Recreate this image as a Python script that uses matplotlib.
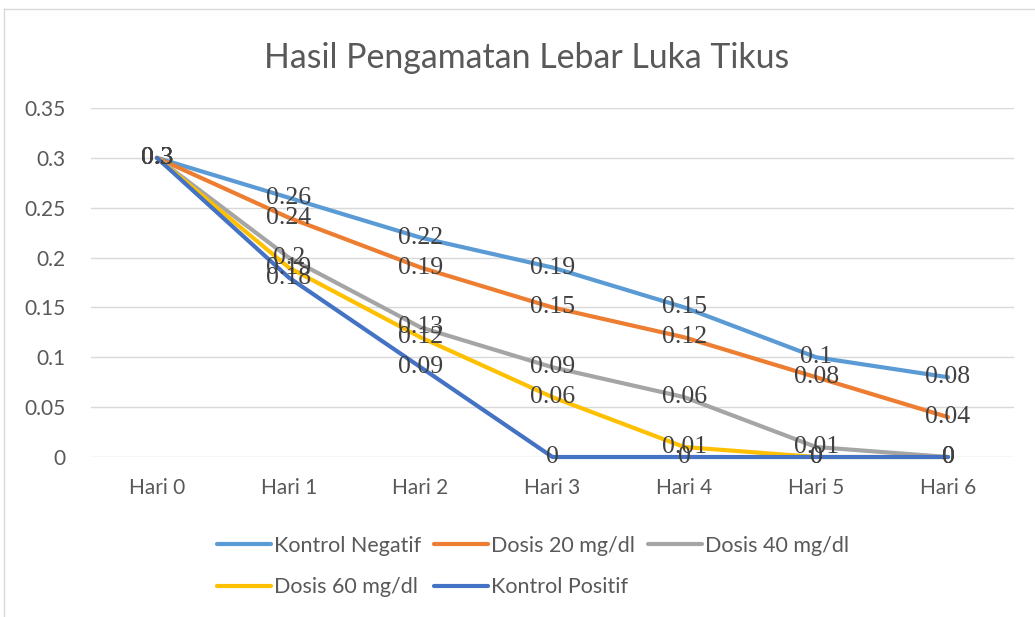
import numpy as np
import matplotlib
matplotlib.use("Agg")
import matplotlib.pyplot as plt
from matplotlib.lines import Line2D

days = ["Hari 0", "Hari 1", "Hari 2", "Hari 3", "Hari 4", "Hari 5", "Hari 6"]

kontrol_negatif = [0.3, 0.26, 0.22, 0.19, 0.15, 0.1, 0.08]
dosis_20 = [0.3, 0.24, 0.19, 0.15, 0.12, 0.08, 0.04]
dosis_40 = [0.3, 0.2, 0.13, 0.09, 0.06, 0.01, 0]
dosis_60 = [0.3, 0.19, 0.12, 0.06, 0.01, 0, 0]
kontrol_positif = [0.3, 0.18, 0.09, 0, 0, 0, 0]

series_names = ["Kontrol Negatif", "Dosis 20 mg/dl", "Dosis 40 mg/dl",
                "Dosis 60 mg/dl", "Kontrol Positif"]
series_vals = [kontrol_negatif, dosis_20, dosis_40, dosis_60, kontrol_positif]
colors = ["#5B9BD5", "#ED7D31", "#A5A5A5", "#FFC000", "#4472C4"]

fig = plt.figure(figsize=(10.35, 6.17), dpi=100)
ax = fig.add_axes([0.0879, 0.2593, 0.8918, 0.5657])

x = np.arange(len(days))
handles = []
for name, vals, c in zip(series_names, series_vals, colors):
    h, = ax.plot(x, vals, color=c, lw=3, solid_capstyle="round", label=name,
                 zorder=3, clip_on=False)
    handles.append(h)

# data labels on top of lines
for vals in series_vals:
    for xi, v in zip(x, vals):
        ax.text(xi, v, f"{v:g}", ha="center", va="center", fontsize=18.5,
                family="Liberation Serif", color="#404040", zorder=5)

ax.set_xlim(-0.5, len(days) - 0.5)
ax.set_ylim(0, 0.35)
ax.set_yticks(np.arange(0, 0.351, 0.05))
ax.set_yticklabels(["0", "0.05", "0.1", "0.15", "0.2", "0.25", "0.3", "0.35"])
ax.set_xticks(x)
ax.set_xticklabels(days)
ax.grid(axis="y", color="#D9D9D9", lw=1)
ax.set_axisbelow(True)
for s in ax.spines.values():
    s.set_visible(False)
ax.tick_params(axis="both", length=0, labelsize=15, labelcolor="#595959")
ax.tick_params(axis="y", pad=18)
ax.tick_params(axis="x", pad=15)
for lab in ax.get_xticklabels() + ax.get_yticklabels():
    lab.set_family("Lato")

fig.text(0.509, 0.906, "Hasil Pengamatan Lebar Luka Tikus", ha="center", va="center",
         fontsize=24.4, family="Lato", color="#595959")

# legend is filled row by row in the reference
order = [0, 3, 1, 4, 2]
leg = fig.legend(handles=[handles[i] for i in order], loc="upper left",
                 bbox_to_anchor=(0.191, 0.163), ncol=3, frameon=False,
                 handlelength=2.5, handletextpad=0.15, columnspacing=0.6,
                 labelspacing=1.0, prop={"family": "Lato", "size": 15.5})
for t in leg.get_texts():
    t.set_color("#595959")

# outer chart border (light)
fig.add_artist(Line2D([4 / 1035, 4 / 1035], [0, 1 - 9 / 617], transform=fig.transFigure,
                      color="#D9D9D9", lw=1))
fig.add_artist(Line2D([4 / 1035, 1], [1 - 9 / 617, 1 - 9 / 617], transform=fig.transFigure,
                      color="#D9D9D9", lw=1))

fig.savefig("out.png", dpi=100)
